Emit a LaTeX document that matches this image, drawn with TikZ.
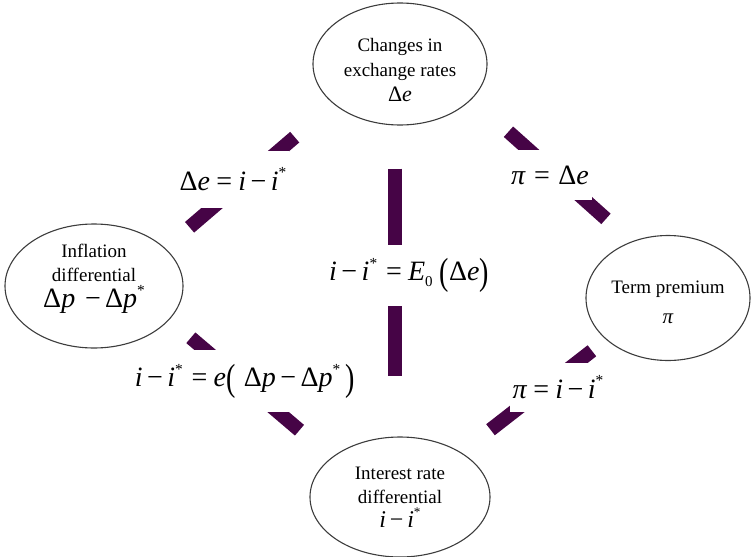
\documentclass[tikz,border=0pt]{standalone}
\usepackage{fontspec}
\setmainfont{Liberation Serif}
\usetikzlibrary{shapes.geometric}
\definecolor{linkpurple}{RGB}{70,4,70}
\definecolor{ovalgray}{RGB}{60,60,60}
\newcommand{\vv}[1]{\textit{#1}}
\newcommand{\st}{\raisebox{0.45em}{\fontsize{0.55em}{0.55em}\selectfont *}}
\newcommand{\eqs}{\kern0.22em=\kern0.22em}
\newcommand{\mns}{\kern0.16em−\kern0.16em}
\newcommand{\bigp}[1]{\raisebox{-0.12em}{\scalebox{1}[1.35]{#1}}}
\begin{document}
\begin{tikzpicture}[x=1pt,y=-1pt,
  oval/.style={draw=ovalgray, line width=1.1pt, ellipse, inner sep=0pt, align=center,
    font=\fontsize{19}{24}\selectfont},
  link/.style={draw=linkpurple, line width=14pt},
  rel/.style={fill=white, inner sep=3pt, font=\fontsize{28}{30}\selectfont}]
\useasboundingbox (0,0) rectangle (753,557);
% ovals
\node[oval, minimum width=174pt, minimum height=122pt] (ex) at (400,64)
  {\rule{0pt}{26pt}Changes in\\[1pt]exchange rates\\[1pt]{\fontsize{22}{24}\selectfont Δ\vv{e}}};
\node[oval, minimum width=178pt, minimum height=124pt] (inf) at (94,286)
  {Inflation\\differential\\[2pt]{\fontsize{28}{30}\selectfont Δ\vv{p}\kern0.35em−\kern0.15emΔ\vv{p}\st}\rule[-20pt]{0pt}{0pt}};
\node[oval, minimum width=164pt, minimum height=125pt] (term) at (668,298)
  {\rule{0pt}{22pt}Term premium\\[6pt]{\fontsize{21}{24}\selectfont\vv{π}}};
\node[oval, minimum width=180pt, minimum height=120pt] (ir) at (400,497)
  {Interest rate\\differential\\{\fontsize{24}{24}\selectfont\vv{i}\mns\vv{i}\st}};
% connectors
\draw[link, shorten <=51pt, shorten >=32pt] (ex.211) -- (inf.28);
\draw[link, shorten <=49pt, shorten >=34pt] (ex.334) -- (term.123);
\draw[link, shorten <=28pt, shorten >=42pt] (inf.336) -- (ir.150);
\draw[link, shorten <=18pt, shorten >=37pt] (term.214) -- (ir.36);
\draw[link, shorten <=43pt, shorten >=60pt] ([xshift=-5pt]ex.south) -- ([xshift=-5pt]ir.north);
% relation labels
\node[rel, minimum height=57pt] (l1) at (233,179) {Δ\vv{e}\eqs\vv{i}\mns\vv{i}\st};
\node[rel, minimum height=50pt] (l2) at (550,175) {\vv{π}\kern0.3em=\kern0.3emΔ\vv{e}};
\node[rel, minimum height=62pt] (l3) at (245,381)
  {\vv{i}\mns\vv{i}\st\kern0.1em\eqs\vv{e}\bigp{(}\kern0.3emΔ\vv{p}\mns Δ\vv{p}\st\kern0.2em\bigp{)}};
\node[rel, minimum height=49pt] (l4) at (558,387) {\vv{π}\eqs\vv{i}\mns\vv{i}\st};
\node[rel, minimum height=61pt] (l5) at (409,275)
  {\vv{i}\mns\vv{i}\st\kern0.1em\eqs\vv{E}\raisebox{-0.2em}{\fontsize{15}{15}\selectfont 0}\kern0.25em\bigp{(}Δ\vv{e}\bigp{)}};
\end{tikzpicture}
\end{document}
